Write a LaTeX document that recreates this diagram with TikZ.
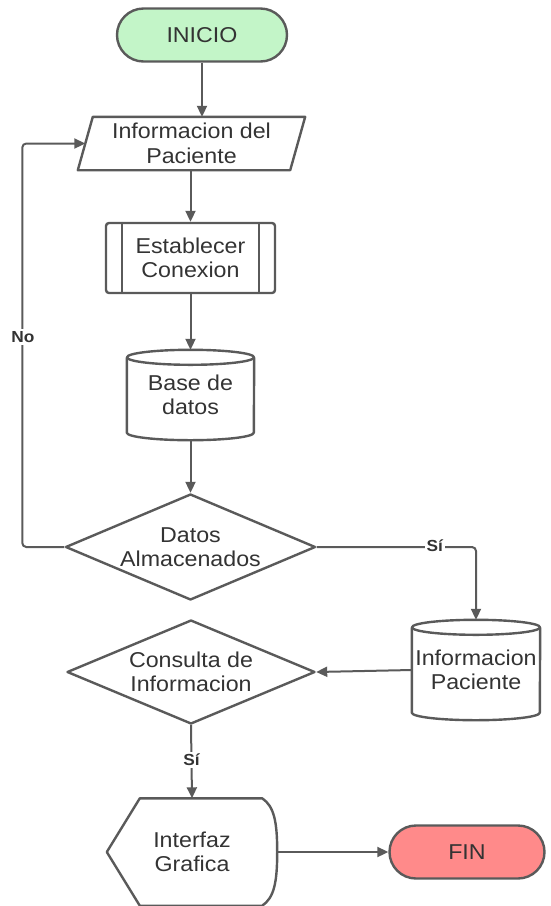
\documentclass[tikz,border=0pt]{standalone}
\usepackage{fontspec}
\setmainfont{Liberation Sans}[FakeStretch=1.08]
\usetikzlibrary{shapes.geometric,shapes.misc,arrows.meta,calc}
\definecolor{linegray}{HTML}{5A5A5A}
\definecolor{textgray}{HTML}{333333}
\definecolor{startgreen}{HTML}{C3F5C8}
\definecolor{endred}{HTML}{FF8A8A}
\tikzset{
  base/.style={text=textgray, align=center, font=\fontsize{21.5}{24.5}\selectfont, inner sep=0pt},
  outline/.style={draw=linegray, line width=2.4pt, line join=round},
  terminal/.style={base, outline, rounded rectangle, minimum height=53pt},
  decision/.style={base, outline, diamond, fill=white},
  procbox/.style={base, outline, rectangle, rounded corners=3pt, minimum width=169pt, minimum height=70pt},
  ghost/.style={base, rectangle},
  conn/.style={draw=linegray, line width=2pt, -{Triangle[length=11pt,width=10pt]}},
  tag/.style={text=textgray, font=\fontsize{16}{18}\selectfont\bfseries, fill=white, inner sep=2pt}
}
\begin{document}
\begin{tikzpicture}[x=1pt, y=-1pt]
\useasboundingbox (0,0) rectangle (550,906);

% terminals
\node[terminal, fill=startgreen, minimum width=170pt] (inicio) at (202,35) {INICIO};
\node[terminal, fill=endred, minimum width=155pt] (fin) at (467,852) {FIN};

% input parallelogram
\node[ghost, minimum width=212pt, minimum height=53pt] (pac) at (191.5,143.5) {Informacion del\\Paciente};
\draw[outline] ($(pac.north west)+(7.5,0)$) -- ($(pac.north east)+(7.5,0)$)
  -- ($(pac.south east)+(-7.5,0)$) -- ($(pac.south west)+(-7.5,0)$) -- cycle;

% predefined process
\node[procbox] (con) at (190.5,258) {Establecer\\Conexion};
\draw[outline] ($(con.north west)+(17,0)$) -- ($(con.south west)+(17,0)$);
\draw[outline] ($(con.north east)+(-17,0)$) -- ($(con.south east)+(-17,0)$);

% database cylinders
\node[ghost, minimum width=127pt, minimum height=90pt] (bd) at (190.5,395) {Base de\\datos};
\draw[outline] ($(bd.north)+(0,7.5)$) ellipse [x radius=63.5, y radius=7.5];
\draw[outline] ($(bd.north west)+(0,7.5)$) -- ($(bd.south west)+(0,-7.5)$)
  arc[start angle=180, end angle=0, x radius=63.5, y radius=7.5] -- ($(bd.north east)+(0,7.5)$);

\node[ghost, minimum width=128pt, minimum height=100pt] (ip) at (476,670) {Informacion\\Paciente};
\draw[outline] ($(ip.north)+(0,7.5)$) ellipse [x radius=64, y radius=7.5];
\draw[outline] ($(ip.north west)+(0,7.5)$) -- ($(ip.south west)+(0,-7.5)$)
  arc[start angle=180, end angle=0, x radius=64, y radius=7.5] -- ($(ip.north east)+(0,7.5)$);

% decisions
\node[decision, minimum width=250pt, minimum height=106pt, aspect=2.36] (dat) at (190.5,547) {Datos\\Almacenados};
\node[decision, minimum width=248pt, minimum height=104pt, aspect=2.38] (cons) at (191,672) {Consulta de\\Informacion};

% display
\node[ghost, minimum width=170pt, minimum height=107pt] (gui) at (192,852) {Interfaz\\Grafica};
\draw[outline] (gui.west) -- ($(gui.north west)+(33,0)$) -- ($(gui.north east)+(-15,0)$)
  .. controls ($(gui.north east)+(-3,8)$) and ($(gui.east)+(0,-30)$) .. (gui.east)
  .. controls ($(gui.east)+(0,30)$) and ($(gui.south east)+(-3,-8)$) .. ($(gui.south east)+(-15,0)$)
  -- ($(gui.south west)+(33,0)$) -- cycle;

% connectors
\draw[conn] (inicio.south) -- (inicio.south |- pac.north);
\draw[conn] (pac.south -| con.north) -- (con.north);
\draw[conn] (con.south) -- (bd.north);
\draw[conn] (bd.south) -- (dat.north);
\draw[conn, rounded corners=4pt] (dat.west) -- ++(-42,0) coordinate (nobend) |- (pac.west);
\path (nobend) ++(0.5,-210) node[tag] {No};
\draw[conn, rounded corners=4pt] (dat.east) -| (ip.north);
\path (dat.east) ++(118,-1) node[tag] {Sí};
\draw[conn] (ip.west) -- (cons.east);
\draw[conn] (cons.south) -- (gui.north);
\node[tag] at ($(cons.south)!0.47!(gui.north)$) {Sí};
\draw[conn] (gui.east) -- (fin.west);
\end{tikzpicture}
\end{document}
